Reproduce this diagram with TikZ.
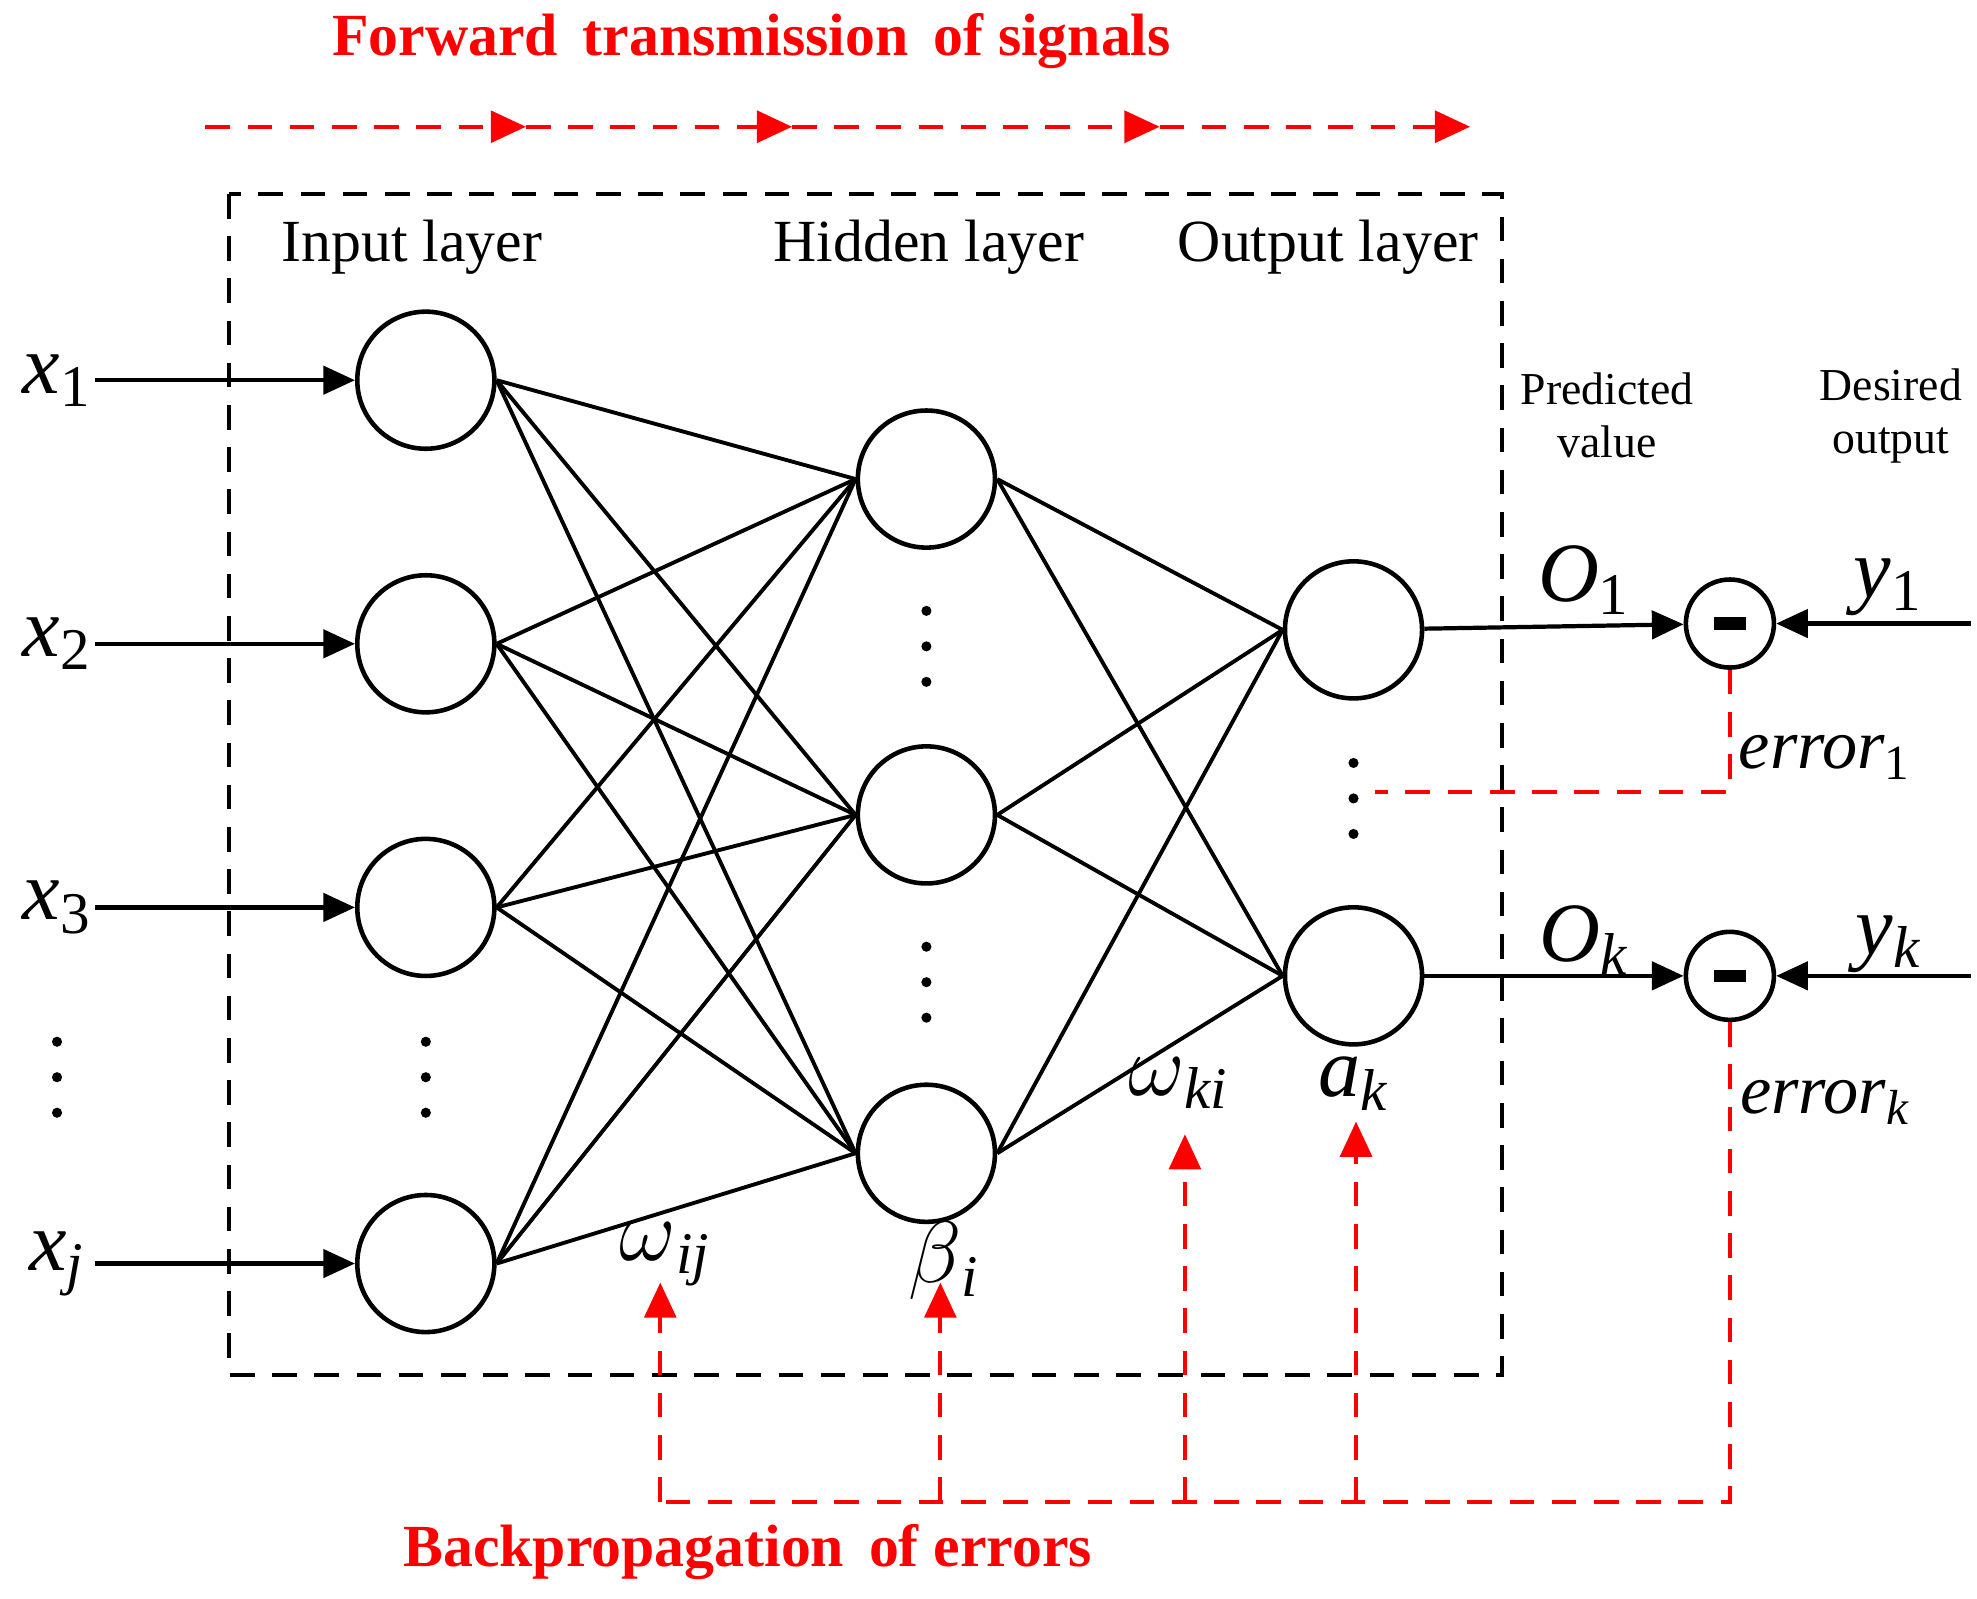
\documentclass[tikz,border=0pt]{standalone}
\usepackage{fontspec}
\setmainfont{Liberation Serif}
\usetikzlibrary{arrows.meta}
\tikzset{
 neuron/.style={circle,draw,line width=1.3pt,minimum size=1.37cm,inner sep=0pt},
 minus/.style={circle,draw,line width=1.3pt,minimum size=0.88cm,inner sep=0pt},
 link/.style={line width=1.1pt},
 sig/.style={-{Triangle[length=9pt,width=8pt]},line width=1.2pt},
 back/.style={red,dashed,line width=1.2pt,dash pattern=on 7pt off 5pt},
 var/.style={font=\fontsize{24}{24}\selectfont\itshape},
 layer/.style={font=\fontsize{17}{17}\selectfont},
 title/.style={red,font=\fontsize{17}{17}\selectfont\bfseries}
}
\begin{document}
\begin{tikzpicture}[x=0.01267cm,y=-0.01267cm]
\useasboundingbox (0,0) rectangle (1560,1261);

% layers
\foreach \n/\y in {1/300,2/508,3/716,4/997} \node[neuron] (in\n) at (336,\y) {};
\foreach \n/\y in {1/378,2/643,3/910} \node[neuron] (hid\n) at (731,\y) {};
\foreach \n/\y in {1/497,2/770} \node[neuron] (out\n) at (1068,\y) {};
\node[minus] (m1) at (1365,492) {\rule{9pt}{3.5pt}};
\node[minus] (m2) at (1365,770) {\rule{9pt}{3.5pt}};

\foreach \i in {1,...,4}
 \foreach \h in {1,2,3}
  \draw[link] (in\i.east) -- (hid\h.west);
\foreach \h in {1,2,3}
 \foreach \o in {1,2}
  \draw[link] (hid\h.east) -- (out\o.west);

% dots
\foreach \x/\y in {45/850,336/850,731/510,731/775,1068/630}
 \foreach \d in {-28,0,28}
  \fill (\x,\y+\d) circle (4);

\draw[line width=1.2pt,dashed,dash pattern=on 7pt off 5pt] (181,153) rectangle (1185,1085);
\node[layer] (lin) at (325,195) {Input layer};
\node[layer] (lhid) at (733,195) {Hidden layer};
\node[layer] (lout) at (1048,195) {Output layer};

% inputs
\foreach \n/\y/\s in {1/300/1,2/508/2,3/716/3,4/997/{\itshape j}} {
 \node[var] (x\n) at (45,\y) {x\textsubscript{\upshape\s}};
 \coordinate (xs\n) at (75,\y);
 \draw[sig] (xs\n) -- (in\n);
}
\draw[sig] (out1) -- (m1);
\draw[sig] (out2) -- (m2);
\coordinate (ys1) at (1555,492);
\coordinate (ys2) at (1555,770);
\draw[sig] (ys1) -- (m1);
\draw[sig] (ys2) -- (m2);

\node[font=\fontsize{13}{15}\selectfont,align=center] (pred) at (1268,328) {Predicted\\value};
\node[font=\fontsize{13}{15}\selectfont,align=center] (des) at (1492,328) {Desired\\output};
\node[var] (o1) at (1250,458) {O\textsubscript{\upshape 1}};
\node[var] (ok) at (1250,742) {O\textsubscript{k}};
\node[var] (y1) at (1490,463) {y\textsubscript{\upshape 1}};
\node[var] (yk) at (1490,745) {y\textsubscript{k}};
\node[var,font=\fontsize{20}{20}\selectfont\itshape] (e1) at (1440,598) {error\textsubscript{\upshape 1}};
\node[var,font=\fontsize{20}{20}\selectfont\itshape] (ek) at (1440,870) {error\textsubscript{k}};
\node[var] (wij) at (525,990) {$\omega$\textsubscript{ij}};
\node[var] (bi) at (745,995) {$\beta$\textsubscript{i}};
\node[var] (wki) at (930,855) {$\omega$\textsubscript{ki}};
\node[var] (ak) at (1068,855) {a\textsubscript{k}};

% errors back
\coordinate (c1) at (1365,625);
\coordinate (c2) at (1085,625);
\coordinate (c3) at (1365,1185);
\coordinate (c4) at (521,1185);
\draw[back] (m1) -- (c1) -- (c2);
\draw[back] (m2) -- (c3) -- (c4);
\foreach \x/\t in {521/1012,742/1012,935/895,1070/885} {
 \coordinate (b\x) at (\x,1185);
 \coordinate (t\x) at (\x,\t);
 \draw[back,-{Triangle[length=10pt,width=9pt]}] (b\x) -- (t\x);
}

% forward
\coordinate (f0) at (162,100);
\foreach \x in {415,625,915,1160} {
 \coordinate (f\x) at (\x,100);
}
\draw[back,-{Triangle[length=10pt,width=9pt]}] (f0) -- (f415);
\draw[back,-{Triangle[length=10pt,width=9pt]}] (f415) -- (f625);
\draw[back,-{Triangle[length=10pt,width=9pt]}] (f625) -- (f915);
\draw[back,-{Triangle[length=10pt,width=9pt]}] (f915) -- (f1160);
\node[title] (ft) at (593,32) {Forward\, transmission\, of signals};
\node[title] (bt) at (590,1225) {Backpropagation\, of errors};
\end{tikzpicture}
\end{document}
